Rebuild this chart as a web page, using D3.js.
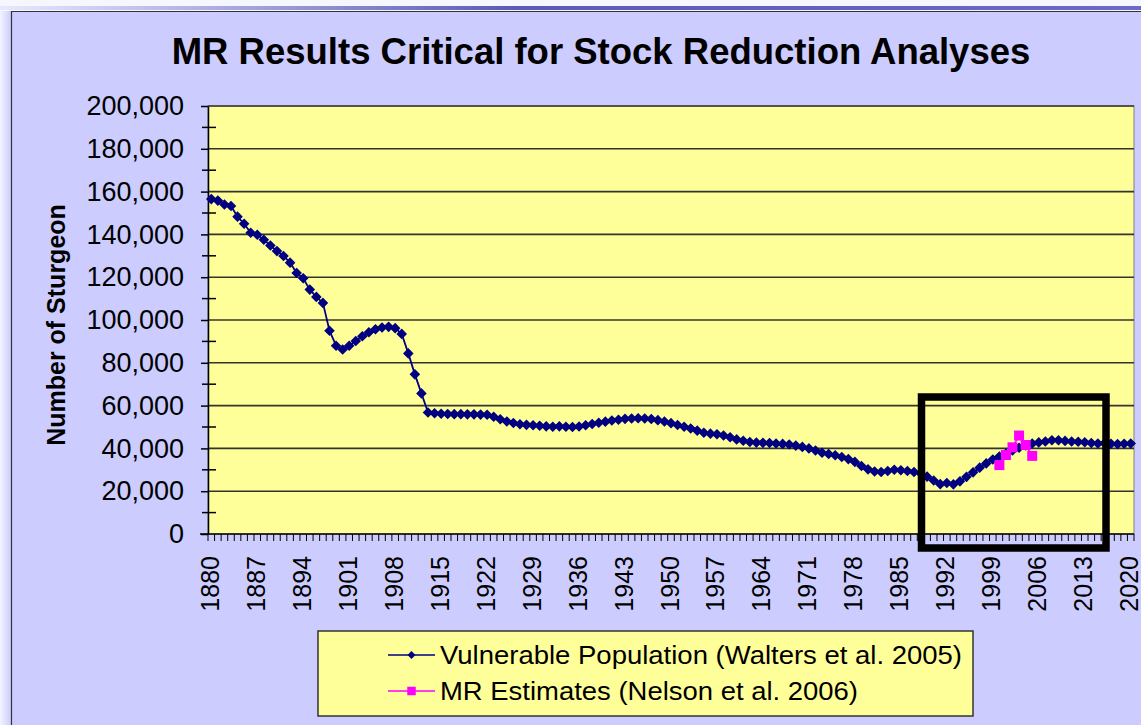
<!DOCTYPE html>
<html>
<head>
<meta charset="utf-8">
<script src="https://cdn.jsdelivr.net/npm/d3@7"></script>
<style>
body { margin: 0; background: #ccccff; }
svg { display: block; font-family: "Liberation Sans", Arial, sans-serif; }
</style>
</head>
<body>
<svg id="chart" width="1141" height="725"></svg>
<script>
// yearly categories on the x axis
var years = d3.range(1880, 2021);

// Vulnerable Population (Walters et al. 2005), one value per year 1880-2020
var population = [
    156500, 155800, 154000, 153300, 148300, 145000, 140800, 139800, 137500, 134800,
    132200, 129900, 126800, 122000, 119500, 114200, 110800, 108000, 95000, 88000,
    86200, 88000, 90200, 92400, 94300, 95700, 96500, 96800, 96200, 93500,
    84400, 74600, 65700, 56800, 56400, 56200, 56100, 56000, 56000, 55900,
    55900, 55800, 55700, 54800, 53600, 52600, 51900, 51300, 51000, 50800,
    50600, 50300, 50100, 50300, 50100, 50000, 50200, 50800, 51400, 52000,
    52500, 53000, 53400, 53800, 54000, 54100, 54000, 53700, 53200, 52600,
    51800, 50900, 50100, 49300, 48300, 47300, 46900, 46600, 46000, 45200,
    44200, 43600, 43000, 42700, 42600, 42500, 42300, 42100, 41800, 41300,
    40700, 40000, 39000, 38000, 37400, 36800, 36000, 35000, 33700, 31800,
    30200, 29200, 29000, 29400, 30000, 29800, 29400, 29000, 28400, 26800,
    25000, 23300, 23800, 23200, 24600, 26700, 28800, 31000, 33000, 34800,
    36200, 37600, 39000, 40300, 41400, 42300, 42800, 43200, 43800, 43800,
    43500, 43200, 43100, 42900, 42500, 42300, 42400, 42200, 42000, 42200,
    42300
];

// MR Estimates (Nelson et al. 2006)
var mrYears = [2000, 2001, 2002, 2003, 2004, 2005];
var mrValues = [32200, 36900, 40500, 46000, 41600, 36500];

var yTicks = [0, 20000, 40000, 60000, 80000, 100000, 120000, 140000, 160000, 180000, 200000];
var yMinorTicks = [10000, 30000, 50000, 70000, 90000, 110000, 130000, 150000, 170000, 190000];
var xLabelYears = [1880, 1887, 1894, 1901, 1908, 1915, 1922, 1929, 1936, 1943, 1950,
                   1957, 1964, 1971, 1978, 1985, 1992, 1999, 2006, 2013, 2020];

var legendNames = ["Vulnerable Population (Walters et al. 2005)", "MR Estimates (Nelson et al. 2006)"];

var svg = d3.select("#chart");

var plotLeft = 208, plotRight = 1134, plotTop = 106, plotBottom = 534;

var x = d3.scaleBand().domain(years).range([plotLeft, plotRight]);
var y = d3.scaleLinear().domain([0, 200000]).range([plotBottom, plotTop]);
var cx = function(yr) { return x(yr) + x.bandwidth() / 2; };

// slide background bits
var defs = svg.append("defs");
var gTop = defs.append("linearGradient").attr("id", "topgrad");
gTop.append("stop").attr("offset", "0%").attr("stop-color", "#e8e8ff");
gTop.append("stop").attr("offset", "45%").attr("stop-color", "#5a5ab8");
gTop.append("stop").attr("offset", "100%").attr("stop-color", "#6a6ac8");
var gLeft = defs.append("linearGradient").attr("id", "leftgrad");
gLeft.append("stop").attr("offset", "0%").attr("stop-color", "#f4f4ff");
gLeft.append("stop").attr("offset", "100%").attr("stop-color", "#ccccff");

svg.append("rect").attr("width", 1141).attr("height", 725).attr("fill", "#ccccff");
svg.append("rect").attr("width", 1141).attr("height", 11).attr("fill", "#f6f6ff");
svg.append("rect").attr("y", 6).attr("width", 1141).attr("height", 4).attr("fill", "url(#topgrad)");
svg.append("rect").attr("y", 11).attr("width", 11).attr("height", 714).attr("fill", "url(#leftgrad)");
svg.append("path").attr("d", "M11.5,725 V11.5 H1141")
    .attr("fill", "none").attr("stroke", "#333").attr("stroke-width", 1.2);

// title
svg.append("text")
    .attr("x", 601).attr("y", 64)
    .attr("text-anchor", "middle")
    .attr("font-size", 36.5).attr("font-weight", "bold")
    .attr("fill", "#000")
    .text("MR Results Critical for Stock Reduction Analyses");

// plot area
svg.append("rect")
    .attr("x", plotLeft).attr("y", plotTop)
    .attr("width", plotRight - plotLeft).attr("height", plotBottom - plotTop)
    .attr("fill", "#ffff99").attr("stroke", "#808080").attr("stroke-width", 1);

svg.append("g").selectAll("line")
    .data(yTicks.filter(function(d) { return d > 0; }))
    .enter().append("line")
    .attr("x1", plotLeft).attr("x2", plotRight)
    .attr("y1", function(d) { return y(d); })
    .attr("y2", function(d) { return y(d); })
    .attr("stroke", "#333").attr("stroke-width", 1.6);

// y axis
var yAxis = svg.append("g")
    .attr("transform", "translate(" + plotLeft + ",0)")
    .call(d3.axisLeft(y).tickValues(yTicks).tickSize(7).tickSizeOuter(0)
        .tickPadding(17).tickFormat(d3.format(",")));
yAxis.select(".domain").attr("stroke", "#000").attr("stroke-width", 1.5);
yAxis.selectAll(".tick line").attr("stroke", "#000").attr("stroke-width", 1.5);
yAxis.selectAll(".tick text")
    .attr("font-size", 27).attr("fill", "#000")
    .attr("font-family", "Liberation Sans, Arial, sans-serif");

svg.append("g").selectAll("line")
    .data(yMinorTicks)
    .enter().append("line")
    .attr("x1", plotLeft - 6).attr("x2", plotLeft + 8)
    .attr("y1", function(d) { return y(d); })
    .attr("y2", function(d) { return y(d); })
    .attr("stroke", "#000").attr("stroke-width", 1.5);

// x axis
svg.append("line")
    .attr("x1", plotLeft - 8).attr("x2", plotRight)
    .attr("y1", plotBottom).attr("y2", plotBottom)
    .attr("stroke", "#000").attr("stroke-width", 1.5);

svg.append("g").selectAll("line")
    .data(years.concat([2021]))
    .enter().append("line")
    .attr("x1", function(d, i) { return plotLeft + i * x.step(); })
    .attr("x2", function(d, i) { return plotLeft + i * x.step(); })
    .attr("y1", plotBottom).attr("y2", plotBottom + 7)
    .attr("stroke", "#000").attr("stroke-width", 1);

svg.append("g").selectAll("text")
    .data(xLabelYears)
    .enter().append("text")
    .attr("transform", function(d) { return "translate(" + (cx(d) - 1.5) + "," + 556 + ") rotate(-90)"; })
    .attr("text-anchor", "end")
    .attr("dominant-baseline", "central")
    .attr("font-size", 25).attr("fill", "#000")
    .text(function(d) { return d; });

// y axis title
svg.append("text")
    .attr("transform", "translate(56,325) rotate(-90)")
    .attr("text-anchor", "middle")
    .attr("dominant-baseline", "central")
    .attr("font-size", 25).attr("font-weight", "bold")
    .attr("fill", "#000")
    .text("Number of Sturgeon");

// population series
var popLine = d3.line()
    .x(function(d, i) { return cx(years[i]); })
    .y(function(d) { return y(d); });

svg.append("path")
    .datum(population)
    .attr("d", popLine)
    .attr("fill", "none").attr("stroke", "#000080").attr("stroke-width", 1.8);

var diamond = d3.symbol().type(d3.symbolSquare).size(56);

svg.append("g").selectAll("path")
    .data(population)
    .enter().append("path")
    .attr("d", diamond)
    .attr("transform", function(d, i) { return "translate(" + cx(years[i]) + "," + y(d) + ") rotate(45)"; })
    .attr("fill", "#000080");

// MR estimates
var mrLine = d3.line()
    .x(function(d, i) { return cx(mrYears[i]); })
    .y(function(d) { return y(d); });

svg.append("path")
    .datum(mrValues)
    .attr("d", mrLine)
    .attr("fill", "none").attr("stroke", "#ff00ff").attr("stroke-width", 1.5);

var square = d3.symbol().type(d3.symbolSquare).size(100);

svg.append("g").selectAll("path")
    .data(mrValues)
    .enter().append("path")
    .attr("d", square)
    .attr("transform", function(d, i) { return "translate(" + cx(mrYears[i]) + "," + y(d) + ")"; })
    .attr("fill", "#ff00ff");

// highlight box
svg.append("rect")
    .attr("x", 921.5).attr("y", 397)
    .attr("width", 184.5).attr("height", 151)
    .attr("fill", "none").attr("stroke", "#000").attr("stroke-width", 7.5);

// legend
var legend = svg.append("g");
legend.append("rect")
    .attr("x", 318).attr("y", 631)
    .attr("width", 655).attr("height", 85)
    .attr("fill", "#ffff99").attr("stroke", "#333").attr("stroke-width", 1.5);

var legendColors = ["#000080", "#ff00ff"];
var legendWidths = [522, 418];

var item = legend.selectAll("g.item")
    .data(legendNames)
    .enter().append("g")
    .attr("class", "item")
    .attr("transform", function(d, i) { return "translate(0," + (655 + i * 36) + ")"; });

item.append("line")
    .attr("x1", 388).attr("x2", 435)
    .attr("stroke", function(d, i) { return legendColors[i]; })
    .attr("stroke-width", 1.5);

item.append("path")
    .attr("d", function(d, i) { return i == 0 ? d3.symbol().type(d3.symbolSquare).size(32)() : d3.symbol().type(d3.symbolSquare).size(72)(); })
    .attr("transform", function(d, i) { return "translate(411.5,0)" + (i == 0 ? " rotate(45)" : ""); })
    .attr("fill", function(d, i) { return legendColors[i]; });

item.append("text")
    .attr("x", 440)
    .attr("dominant-baseline", "central")
    .attr("font-size", 25).attr("fill", "#000")
    .attr("textLength", function(d, i) { return legendWidths[i]; })
    .attr("lengthAdjust", "spacingAndGlyphs")
    .text(function(d) { return d; });
</script>
</body>
</html>
